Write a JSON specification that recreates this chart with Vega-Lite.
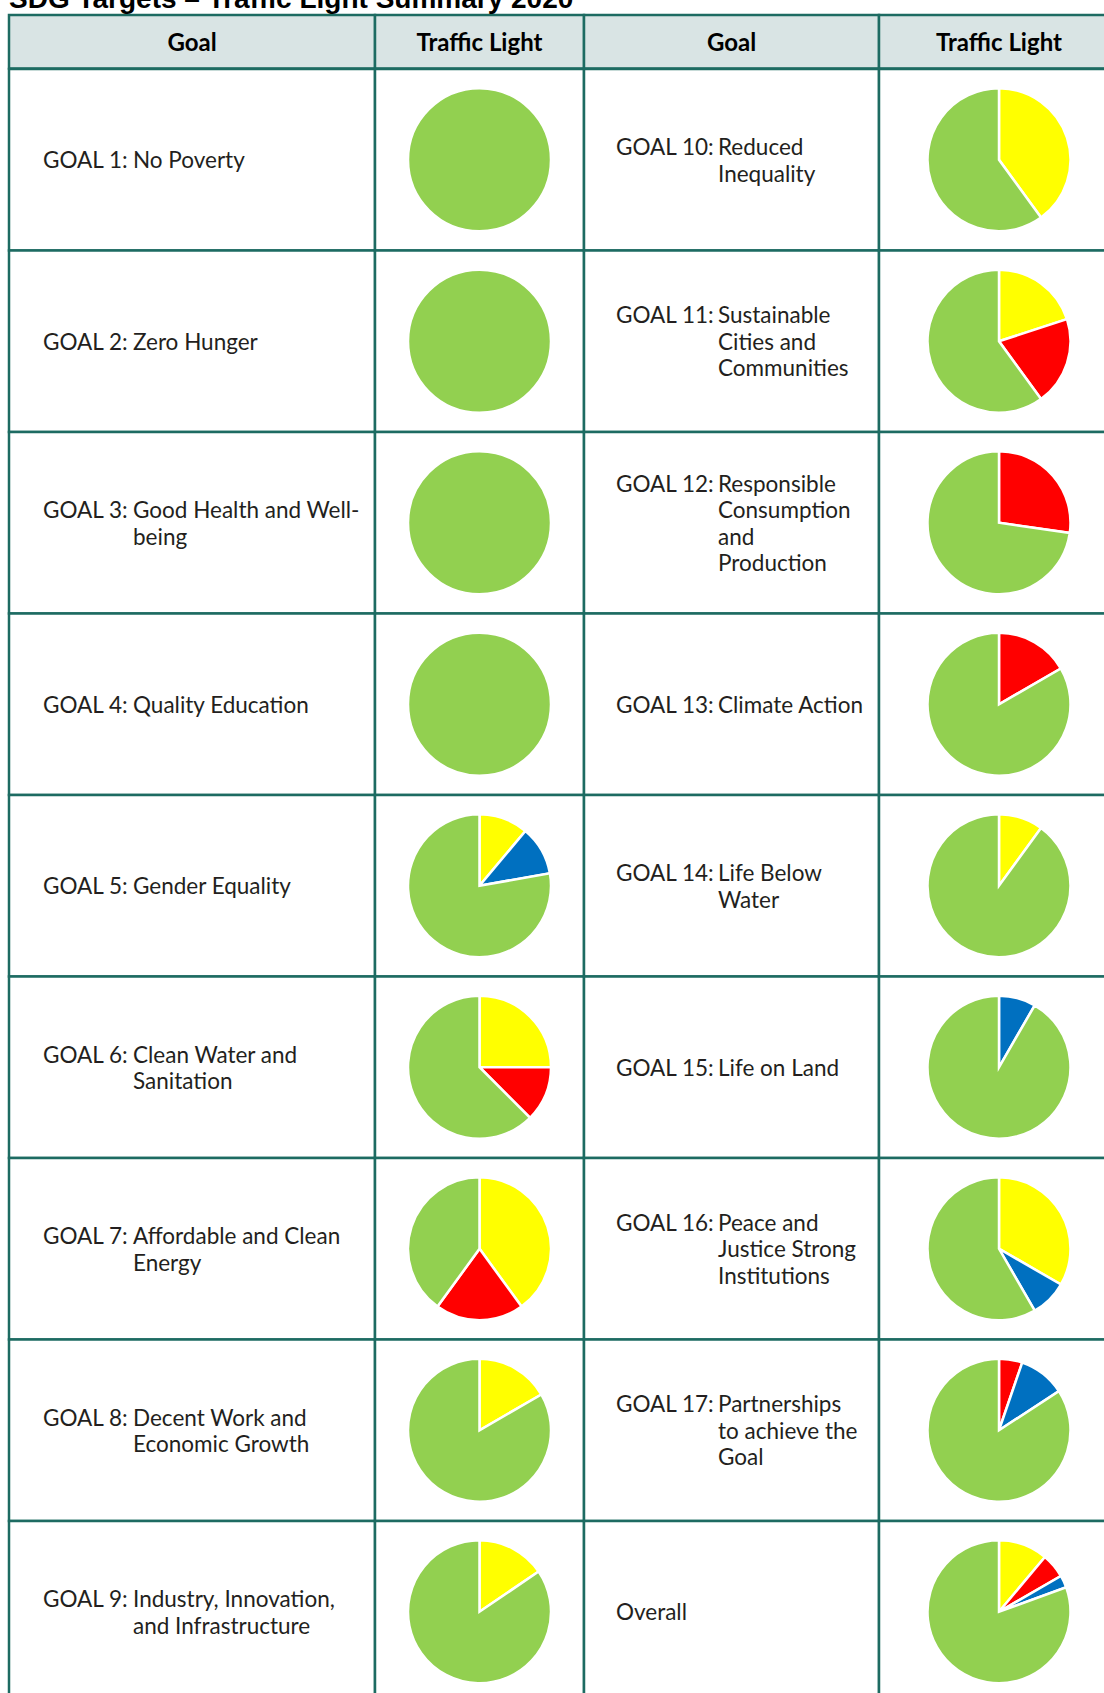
{
  "$schema": "https://vega.github.io/schema/vega-lite/v6.json",
  "padding": {"left": 7, "top": -15, "right": -16, "bottom": -10},
  "background": "white",
  "title": {"text": "SDG Targets – Traffic Light Summary 2020", "anchor": "start", "frame": "group", "font": "Liberation Sans", "fontSize": 28, "fontWeight": "bold", "color": "#000000", "offset": 0},
  "config": {
    "view": {"stroke": null},
    "concat": {"spacing": 0},
    "text": {"font": "Lato", "fontSize": 22.5, "color": "#231f20"}
  },
  "datasets": {
    "goals": [
      {"side": "L", "row": 1, "prefix": ["GOAL 1:"], "body": ["No Poverty"]},
      {"side": "L", "row": 2, "prefix": ["GOAL 2:"], "body": ["Zero Hunger"]},
      {"side": "L", "row": 3, "prefix": ["GOAL 3:", ""], "body": ["Good Health and Well-", "being"]},
      {"side": "L", "row": 4, "prefix": ["GOAL 4:"], "body": ["Quality Education"]},
      {"side": "L", "row": 5, "prefix": ["GOAL 5:"], "body": ["Gender Equality"]},
      {"side": "L", "row": 6, "prefix": ["GOAL 6:", ""], "body": ["Clean Water and", "Sanitation"]},
      {"side": "L", "row": 7, "prefix": ["GOAL 7:", ""], "body": ["Affordable and Clean", "Energy"]},
      {"side": "L", "row": 8, "prefix": ["GOAL 8:", ""], "body": ["Decent Work and", "Economic Growth"]},
      {"side": "L", "row": 9, "prefix": ["GOAL 9:", ""], "body": ["Industry, Innovation,", "and Infrastructure"]},
      {"side": "R", "row": 1, "prefix": ["GOAL 10:", ""], "body": ["Reduced", "Inequality"]},
      {"side": "R", "row": 2, "prefix": ["GOAL 11:", "", ""], "body": ["Sustainable", "Cities and", "Communities"]},
      {"side": "R", "row": 3, "prefix": ["GOAL 12:", "", "", ""], "body": ["Responsible", "Consumption", "and", "Production"]},
      {"side": "R", "row": 4, "prefix": ["GOAL 13:"], "body": ["Climate Action"]},
      {"side": "R", "row": 5, "prefix": ["GOAL 14:", ""], "body": ["Life Below", "Water"]},
      {"side": "R", "row": 6, "prefix": ["GOAL 15:"], "body": ["Life on Land"]},
      {"side": "R", "row": 7, "prefix": ["GOAL 16:", "", ""], "body": ["Peace and", "Justice Strong", "Institutions"]},
      {"side": "R", "row": 8, "prefix": ["GOAL 17:", "", ""], "body": ["Partnerships", "to achieve the", "Goal"]},
      {"side": "R", "row": 9, "prefix": ["Overall"], "body": [""]}
    ],
    "pies": [
      {"side": "L", "row": 1, "status": "Green", "ord": 4, "value": 7},
      {"side": "L", "row": 2, "status": "Green", "ord": 4, "value": 8},
      {"side": "L", "row": 3, "status": "Green", "ord": 4, "value": 13},
      {"side": "L", "row": 4, "status": "Green", "ord": 4, "value": 10},
      {"side": "L", "row": 5, "status": "Yellow", "ord": 1, "value": 1},
      {"side": "L", "row": 5, "status": "Blue", "ord": 3, "value": 1},
      {"side": "L", "row": 5, "status": "Green", "ord": 4, "value": 7},
      {"side": "L", "row": 6, "status": "Yellow", "ord": 1, "value": 2},
      {"side": "L", "row": 6, "status": "Red", "ord": 2, "value": 1},
      {"side": "L", "row": 6, "status": "Green", "ord": 4, "value": 5},
      {"side": "L", "row": 7, "status": "Yellow", "ord": 1, "value": 2},
      {"side": "L", "row": 7, "status": "Red", "ord": 2, "value": 1},
      {"side": "L", "row": 7, "status": "Green", "ord": 4, "value": 2},
      {"side": "L", "row": 8, "status": "Yellow", "ord": 1, "value": 2},
      {"side": "L", "row": 8, "status": "Green", "ord": 4, "value": 10},
      {"side": "L", "row": 9, "status": "Yellow", "ord": 1, "value": 15.5},
      {"side": "L", "row": 9, "status": "Green", "ord": 4, "value": 84.5},
      {"side": "R", "row": 1, "status": "Yellow", "ord": 1, "value": 4},
      {"side": "R", "row": 1, "status": "Green", "ord": 4, "value": 6},
      {"side": "R", "row": 2, "status": "Yellow", "ord": 1, "value": 2},
      {"side": "R", "row": 2, "status": "Red", "ord": 2, "value": 2},
      {"side": "R", "row": 2, "status": "Green", "ord": 4, "value": 6},
      {"side": "R", "row": 3, "status": "Red", "ord": 2, "value": 3},
      {"side": "R", "row": 3, "status": "Green", "ord": 4, "value": 8},
      {"side": "R", "row": 4, "status": "Red", "ord": 2, "value": 1},
      {"side": "R", "row": 4, "status": "Green", "ord": 4, "value": 5},
      {"side": "R", "row": 5, "status": "Yellow", "ord": 1, "value": 1},
      {"side": "R", "row": 5, "status": "Green", "ord": 4, "value": 9},
      {"side": "R", "row": 6, "status": "Blue", "ord": 3, "value": 1},
      {"side": "R", "row": 6, "status": "Green", "ord": 4, "value": 11},
      {"side": "R", "row": 7, "status": "Yellow", "ord": 1, "value": 4},
      {"side": "R", "row": 7, "status": "Blue", "ord": 3, "value": 1},
      {"side": "R", "row": 7, "status": "Green", "ord": 4, "value": 7},
      {"side": "R", "row": 8, "status": "Red", "ord": 2, "value": 1},
      {"side": "R", "row": 8, "status": "Blue", "ord": 3, "value": 2},
      {"side": "R", "row": 8, "status": "Green", "ord": 4, "value": 16},
      {"side": "R", "row": 9, "status": "Yellow", "ord": 1, "value": 4},
      {"side": "R", "row": 9, "status": "Red", "ord": 2, "value": 2},
      {"side": "R", "row": 9, "status": "Blue", "ord": 3, "value": 1},
      {"side": "R", "row": 9, "status": "Green", "ord": 4, "value": 29}
    ]
  },
  "bounds": "flush",
  "columns": 4,
  "concat": [
    {"width": 366, "height": 53.5, "view": {"fill": "#d9e4e4", "stroke": "#1d6b62", "strokeWidth": 2.5},
     "data": {"values": [{"label": "Goal"}]},
     "mark": {"type": "text", "fontWeight": "bold", "fontSize": 24, "color": "#000000", "dy": 2},
     "encoding": {"text": {"field": "label"}}},
    {"width": 209, "height": 53.5, "view": {"fill": "#d9e4e4", "stroke": "#1d6b62", "strokeWidth": 2.5},
     "data": {"values": [{"label": "Traffic Light"}]},
     "mark": {"type": "text", "fontWeight": "bold", "fontSize": 24, "color": "#000000", "dy": 2},
     "encoding": {"text": {"field": "label"}}},
    {"width": 295, "height": 53.5, "view": {"fill": "#d9e4e4", "stroke": "#1d6b62", "strokeWidth": 2.5},
     "data": {"values": [{"label": "Goal"}]},
     "mark": {"type": "text", "fontWeight": "bold", "fontSize": 24, "color": "#000000", "dy": 2},
     "encoding": {"text": {"field": "label"}}},
    {"width": 240, "height": 53.5, "view": {"fill": "#d9e4e4", "stroke": "#1d6b62", "strokeWidth": 2.5},
     "data": {"values": [{"label": "Traffic Light"}]},
     "mark": {"type": "text", "fontWeight": "bold", "fontSize": 24, "color": "#000000", "dy": 2},
     "encoding": {"text": {"field": "label"}}},
    {
      "width": 366, "height": 1633.5,
      "data": {"name": "goals"},
      "transform": [{"filter": "datum.side === 'L'"}],
      "encoding": {"y": {"field": "row", "type": "ordinal", "axis": null, "scale": {"paddingInner": 0, "paddingOuter": 0}}},
      "layer": [
        {"mark": {"type": "rect", "fill": "white", "stroke": "#1d6b62", "strokeWidth": 2.5}},
        {"mark": {"type": "text", "align": "left", "baseline": "middle", "x": 34, "lineHeight": 26.5, "dy": {"expr": "1.5 - (length(datum.body) - 1) * 13.25"}}, "encoding": {"text": {"field": "prefix"}}},
        {"mark": {"type": "text", "align": "left", "baseline": "middle", "x": 124, "lineHeight": 26.5, "dy": {"expr": "1.5 - (length(datum.body) - 1) * 13.25"}}, "encoding": {"text": {"field": "body"}}}
      ]
    },
    {
      "width": 209, "height": 1633.5,
      "encoding": {"y": {"field": "row", "type": "ordinal", "axis": null, "scale": {"paddingInner": 0, "paddingOuter": 0}}},
      "layer": [
        {"data": {"name": "goals"}, "transform": [{"filter": "datum.side === 'L'"}],
         "mark": {"type": "rect", "fill": "white", "stroke": "#1d6b62", "strokeWidth": 2.5}},
        {"data": {"name": "pies"}, "transform": [{"filter": "datum.side === 'L'"}, {"stack": "value", "groupby": ["side", "row"], "sort": [{"field": "ord", "order": "ascending"}], "offset": "normalize", "as": ["t0", "t1"]}],
         "mark": {"type": "arc", "radius": 71.5, "stroke": "white", "strokeWidth": 2.5},
         "encoding": {
           "theta": {"field": "t0", "type": "quantitative", "stack": null, "scale": {"domain": [0, 1]}},
           "theta2": {"field": "t1"},
           "color": {"field": "status", "type": "nominal", "legend": null, "scale": {"domain": ["Yellow", "Red", "Blue", "Green"], "range": ["#ffff00", "#ff0000", "#0070c0", "#92d050"]}}
         }}
      ]
    },
    {
      "width": 295, "height": 1633.5,
      "data": {"name": "goals"},
      "transform": [{"filter": "datum.side === 'R'"}],
      "encoding": {"y": {"field": "row", "type": "ordinal", "axis": null, "scale": {"paddingInner": 0, "paddingOuter": 0}}},
      "layer": [
        {"mark": {"type": "rect", "fill": "white", "stroke": "#1d6b62", "strokeWidth": 2.5}},
        {"mark": {"type": "text", "align": "left", "baseline": "middle", "x": 32, "lineHeight": 26.5, "dy": {"expr": "1.5 - (length(datum.body) - 1) * 13.25"}}, "encoding": {"text": {"field": "prefix"}}},
        {"mark": {"type": "text", "align": "left", "baseline": "middle", "x": 134, "lineHeight": 26.5, "dy": {"expr": "1.5 - (length(datum.body) - 1) * 13.25"}}, "encoding": {"text": {"field": "body"}}}
      ]
    },
    {
      "width": 240, "height": 1633.5,
      "encoding": {"y": {"field": "row", "type": "ordinal", "axis": null, "scale": {"paddingInner": 0, "paddingOuter": 0}}},
      "layer": [
        {"data": {"name": "goals"}, "transform": [{"filter": "datum.side === 'R'"}],
         "mark": {"type": "rect", "fill": "white", "stroke": "#1d6b62", "strokeWidth": 2.5}},
        {"data": {"name": "pies"}, "transform": [{"filter": "datum.side === 'R'"}, {"stack": "value", "groupby": ["side", "row"], "sort": [{"field": "ord", "order": "ascending"}], "offset": "normalize", "as": ["t0", "t1"]}],
         "mark": {"type": "arc", "radius": 71.5, "stroke": "white", "strokeWidth": 2.5},
         "encoding": {
           "theta": {"field": "t0", "type": "quantitative", "stack": null, "scale": {"domain": [0, 1]}},
           "theta2": {"field": "t1"},
           "color": {"field": "status", "type": "nominal", "legend": null, "scale": {"domain": ["Yellow", "Red", "Blue", "Green"], "range": ["#ffff00", "#ff0000", "#0070c0", "#92d050"]}}
         }}
      ]
    }
  ]
}
